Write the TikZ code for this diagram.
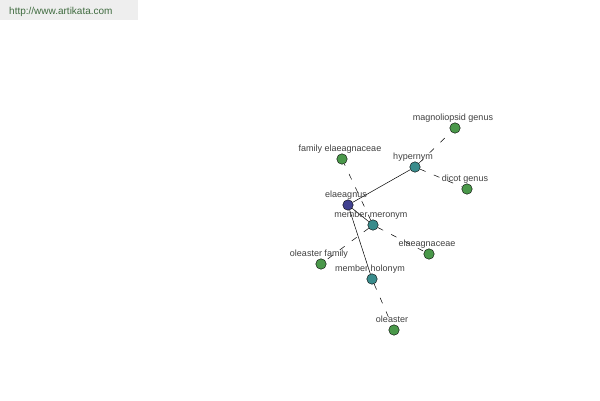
\documentclass[tikz,border=0pt]{standalone}
\usepackage{fontspec}
\setmainfont{Liberation Sans}
\usetikzlibrary{calc}

\definecolor{centrecol}{HTML}{40408F}
\definecolor{relcol}{HTML}{3A8C8C}
\definecolor{wordcol}{HTML}{4A984A}
\definecolor{bannercol}{HTML}{EEEEEE}
\definecolor{linkcol}{HTML}{3F6B3F}

\begin{document}
\begin{tikzpicture}[x=1pt,y=-1pt,
    dot/.style={circle,draw=black,line width=0.4pt,minimum size=10.5pt,inner sep=0pt},
    lbl/.style={font=\fontsize{9}{10}\selectfont,text=black!75,inner sep=0pt},
    solidedge/.style={black,line width=0.5pt},
    dashedge/.style={black,line width=0.5pt,dash pattern=on 6pt off 9pt}]

    \useasboundingbox (0,0) rectangle (600,400);
    \fill[white] (0,0) rectangle (600,400);

    % banner
    \fill[bannercol] (0,0) rectangle (138,20);
    \node[anchor=base west,font=\fontsize{10}{12}\selectfont,text=linkcol,inner sep=0pt] (site) at (9,14.5) {http://www.artikata.com};

    % nodes
    \node[dot,fill=centrecol] (elae) at (348,205) {};
    \node[dot,fill=relcol] (hyper) at (415,167) {};
    \node[dot,fill=relcol] (mero) at (373,225) {};
    \node[dot,fill=relcol] (holo) at (372,279) {};
    \node[dot,fill=wordcol] (magn) at (455,128) {};
    \node[dot,fill=wordcol] (fame) at (342,159) {};
    \node[dot,fill=wordcol] (dico) at (467,189) {};
    \node[dot,fill=wordcol] (elcc) at (429,254) {};
    \node[dot,fill=wordcol] (olfa) at (321,264) {};
    \node[dot,fill=wordcol] (oles) at (394,330) {};

    % edges
    \draw[solidedge] (elae) -- (hyper);
    \draw[solidedge] (elae) -- (mero);
    \draw[solidedge] (elae) -- (holo);
    \draw[dashedge] (hyper) -- (magn);
    \draw[dashedge] (hyper) -- (dico);
    \draw[dashedge] (mero) -- (fame);
    \draw[dashedge] (mero) -- (elcc);
    \draw[dashedge] (mero) -- (olfa);
    \draw[dashedge] (holo) -- (oles);

    % labels
    \foreach \n/\t in {elae/elaeagnus,hyper/hypernym,mero/member meronym,holo/member holonym,
        magn/magnoliopsid genus,fame/family elaeagnaceae,dico/dicot genus,
        elcc/elaeagnaceae,olfa/oleaster family,oles/oleaster} {
    \node[lbl,anchor=base] at ($(\n)+(-2,-8)$) {\t};}

\end{tikzpicture}
\end{document}
